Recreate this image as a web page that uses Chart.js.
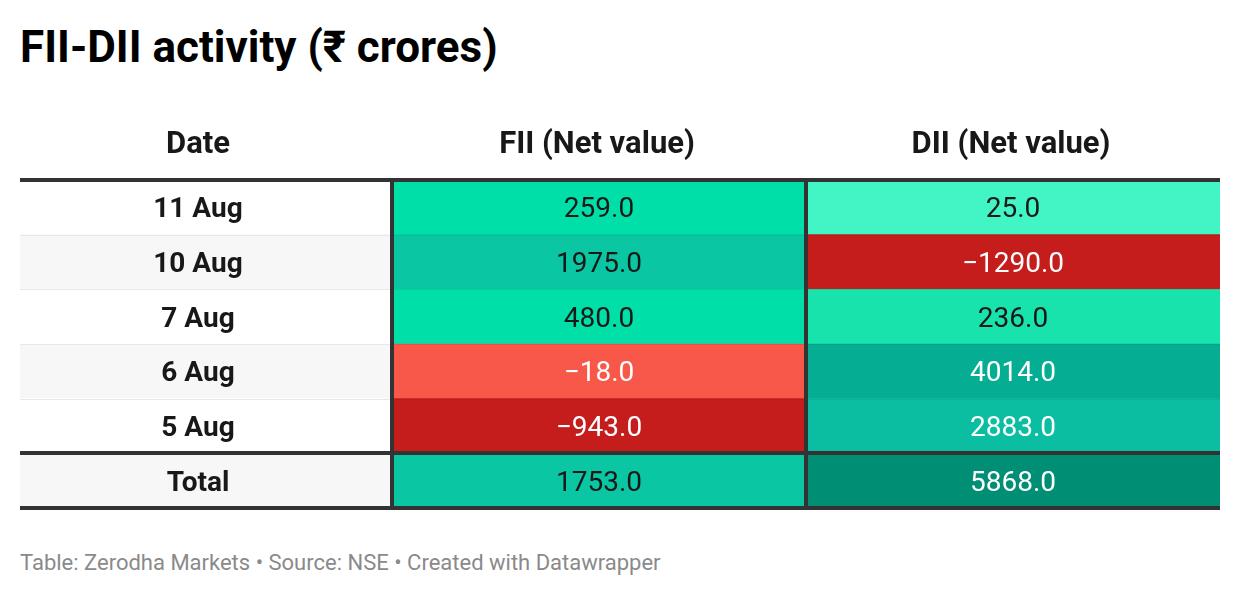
<!DOCTYPE html>
<html>
<head>
<meta charset="utf-8">
<script src="https://cdn.jsdelivr.net/npm/chart.js@4.4.0/dist/chart.umd.min.js"></script>
<style>
  body { margin: 0; width: 1240px; height: 596px; background: #fff; position: relative; overflow: hidden; font-family: Roboto, 'Noto Sans', sans-serif; }
  #title { position: absolute; left: 20px; top: 25px; font-size: 44px; line-height: 44px; font-weight: 700; color: #000; white-space: nowrap; }
  #foot { position: absolute; left: 20px; top: 552px; font-size: 22px; line-height: 22px; color: #8a8a8a; white-space: nowrap; }
  #wrap { position: absolute; left: 0; top: 100px; width: 1240px; height: 420px; }
</style>
</head>
<body>
<div id="title">FII-DII activity (₹ crores)</div>
<div id="wrap"><canvas id="tbl" width="1240" height="420"></canvas></div>
<div id="foot">Table: Zerodha Markets • Source: NSE • Created with Datawrapper</div>

<script>
// ─── DATA ────────────────────────────────────────────────────────────────────
const rowLabels = ['11 Aug', '10 Aug', '7 Aug', '6 Aug', '5 Aug', 'Total'];
const columnHeaders = ['Date', 'FII (Net value)', 'DII (Net value)'];
const fiiValues = [259, 1975, 480, -18, -943, 1753];
const diiValues = [25, -1290, 236, 4014, 2883, 5868];

// ─── STYLE ───────────────────────────────────────────────────────────────────
const colEdges = [0, 372, 786, 1200];          // column boundaries in x-scale units
const dateFill = ['#ffffff', '#f7f7f7', '#ffffff', '#f7f7f7', '#ffffff', '#f7f7f7'];
const fiiFill  = ['#00dfa8', '#0bc6a3', '#00dfa8', '#f75849', '#c51c1c', '#0bc6a3'];
const diiFill  = ['#42f5c4', '#c51c1c', '#18e3ad', '#05ad93', '#0bbea2', '#008f75'];
const DARK = '#181818';
const fiiInk = [DARK, DARK, DARK, '#fff', '#fff', DARK];
const diiInk = [DARK, '#fff', DARK, '#fff', '#fff', '#fff'];
const FONT = "Roboto, 'Noto Sans', sans-serif";

const fmtVal = v => (v < 0 ? '\u2212' : '') + Math.abs(v).toFixed(1);
const cellSpan = i => rowLabels.map(() => [colEdges[i], colEdges[i + 1]]);

// ─── PLUGINS ─────────────────────────────────────────────────────────────────
const tableGrid = {
  id: 'tableGrid',
  afterDatasetsDraw(chart) {
    const { ctx, chartArea: a, scales: { x, y } } = chart;
    const edge = i => i === 0 ? a.top : i === rowLabels.length ? a.bottom
      : (y.getPixelForValue(i - 1) + y.getPixelForValue(i)) / 2;
    const split = x.getPixelForValue(colEdges[1]);
    ctx.save();
    // thin row separators
    ctx.lineWidth = 1;
    for (let i = 1; i < rowLabels.length - 1; i++) {
      const yy = Math.round(edge(i)) + 0.5;
      ctx.strokeStyle = '#e8e8e8';
      ctx.beginPath(); ctx.moveTo(a.left, yy); ctx.lineTo(split, yy); ctx.stroke();
      ctx.strokeStyle = 'rgba(0,0,0,0.06)';
      ctx.beginPath(); ctx.moveTo(split, yy); ctx.lineTo(a.right, yy); ctx.stroke();
    }
    // thick rules
    ctx.strokeStyle = '#333333';
    ctx.lineWidth = 4;
    [0, rowLabels.length - 1, rowLabels.length].forEach(i => {
      const yy = Math.round(edge(i));
      ctx.beginPath(); ctx.moveTo(a.left, yy); ctx.lineTo(a.right, yy); ctx.stroke();
    });
    [1, 2].forEach(c => {
      const xx = Math.round(x.getPixelForValue(colEdges[c]));
      ctx.beginPath(); ctx.moveTo(xx, a.top); ctx.lineTo(xx, a.bottom); ctx.stroke();
    });
    ctx.restore();
  }
};

const cellText = {
  id: 'cellText',
  afterDraw(chart) {
    const { ctx, chartArea: a, scales: { x } } = chart;
    ctx.save();
    ctx.textAlign = 'center';
    ctx.textBaseline = 'middle';
    // header row
    ctx.fillStyle = DARK;
    ctx.font = `700 31px ${FONT}`;
    columnHeaders.forEach((h, c) => {
      const cx = (x.getPixelForValue(colEdges[c]) + x.getPixelForValue(colEdges[c + 1])) / 2;
      ctx.fillText(h, cx + (c === 0 ? -8 : -2), a.top - 35);
    });
    // body cells
    chart.data.datasets.forEach((ds, di) => {
      chart.getDatasetMeta(di).data.forEach((bar, i) => {
        const cx = (bar.x + bar.base) / 2;
        if (di === 0) {
          ctx.font = `700 28px ${FONT}`;
          ctx.fillStyle = DARK;
          ctx.fillText(rowLabels[i], cx - 8, bar.y + 3);
        } else {
          ctx.font = `400 28px ${FONT}`;
          ctx.fillStyle = ds.ink[i];
          ctx.fillText(fmtVal(ds.values[i]), cx, bar.y + 3);
        }
      });
    });
    ctx.restore();
  }
};

// ─── CHART ───────────────────────────────────────────────────────────────────
new Chart(document.getElementById('tbl').getContext('2d'), {
  type: 'bar',
  data: {
    labels: rowLabels,
    datasets: [
      { label: columnHeaders[0], data: cellSpan(0), backgroundColor: dateFill },
      { label: columnHeaders[1], data: cellSpan(1), values: fiiValues, ink: fiiInk, backgroundColor: fiiFill },
      { label: columnHeaders[2], data: cellSpan(2), values: diiValues, ink: diiInk, backgroundColor: diiFill },
    ]
  },
  options: {
    indexAxis: 'y',
    responsive: false,
    devicePixelRatio: 1,
    animation: false,
    layout: { padding: { top: 80, bottom: 12, left: 20, right: 20 } },
    datasets: { bar: { barPercentage: 1, categoryPercentage: 1, grouped: false, borderWidth: 0 } },
    plugins: { legend: { display: false }, tooltip: { enabled: false }, title: { display: false } },
    scales: {
      x: { type: 'linear', min: 0, max: colEdges[colEdges.length - 1], display: false },
      y: { type: 'category', display: false, offset: true },
    },
  },
  plugins: [tableGrid, cellText],
});
</script>
</body>
</html>
